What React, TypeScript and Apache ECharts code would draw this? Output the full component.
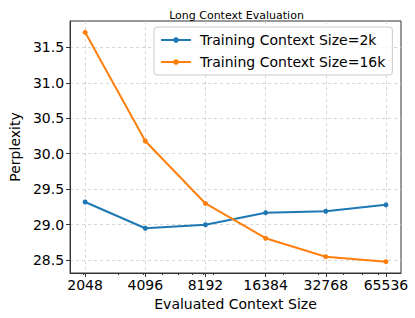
import React, { useEffect, useRef } from "react";
import * as echarts from "echarts";

const contextSizes = [2048, 4096, 8192, 16384, 32768, 65536];
const ppl2k = [29.32, 28.95, 29.0, 29.17, 29.19, 29.28];
const ppl16k = [31.71, 30.18, 29.3, 28.81, 28.55, 28.48];
const yTicks = [28.5, 29.0, 29.5, 30.0, 30.5, 31.0, 31.5];
const minorXTicks = [2000, 3000, 4000, 5000, 6000, 7000, 8000, 9000, 20000, 30000, 40000, 50000, 60000];
const seriesNames = ["Training Context Size=2k", "Training Context Size=16k"];

const FONT = "DejaVu Sans";

export default function App() {
  const ref = useRef<HTMLDivElement>(null);
  useEffect(() => {
    if (!ref.current) return;
    const chart = echarts.init(ref.current, undefined, { renderer: "svg" });
    const xs = contextSizes.map((v) => Math.log2(v));
    const xMin = Math.log2(contextSizes[0]) - 0.25;
    const xMax = Math.log2(contextSizes[contextSizes.length - 1]) + 0.25;
    const mk = (vals: number[]) => xs.map((x, i) => [x, vals[i]]);
    chart.setOption({
      animation: false,
      backgroundColor: "#ffffff",
      title: {
        text: "Long Context Evaluation",
        left: 231.5,
        textAlign: "center",
        top: 5,
        textStyle: { fontFamily: FONT, fontSize: 11, fontWeight: "normal", color: "#000" },
      },
      legend: {
        orient: "vertical",
        left: 154,
        top: 27,
        padding: [6, 7, 6, 6],
        itemWidth: 30,
        itemHeight: 7,
        itemGap: 8,
        backgroundColor: "rgba(255,255,255,0.8)",
        borderColor: "#cccccc",
        borderWidth: 1,
        borderRadius: 3,
        textStyle: { fontFamily: FONT, fontSize: 14, color: "#000", padding: [0, 0, 0, 4] },
        data: seriesNames,
      },
      grid: {
        left: 62,
        right: 14,
        top: 21,
        bottom: 45,
        show: true,
        borderColor: "#333",
        borderWidth: 1,
      },
      xAxis: [
        {
          type: "value",
          min: xMin,
          max: xMax,
          name: "Evaluated Context Size",
          nameLocation: "middle",
          nameGap: 22,
          nameTextStyle: { fontFamily: FONT, fontSize: 14, color: "#000" },
          axisLine: { show: true, lineStyle: { color: "#333", width: 1 } },
          axisTick: { show: true, length: 4, lineStyle: { color: "#333" }, customValues: xs },
          axisLabel: {
            customValues: xs,
            margin: 5,
            fontFamily: FONT,
            fontSize: 14,
            color: "#000",
            formatter: (v: number) => String(Math.round(Math.pow(2, v))),
          },
          splitLine: { show: true, lineStyle: { color: "#cccccc", type: [3, 3], width: 0.8 } },
        },
        {
          type: "value",
          min: xMin,
          max: xMax,
          position: "bottom",
          axisLine: { show: false },
          axisLabel: { show: false },
          splitLine: { show: false },
          axisTick: {
            show: true,
            length: 2,
            lineStyle: { color: "#333" },
            customValues: minorXTicks.map((v) => Math.log2(v)),
          },
        },
      ],
      yAxis: {
        type: "value",
        min: 28.32,
        max: 31.87,
        name: "Perplexity",
        nameLocation: "middle",
        nameGap: 29,
        nameTextStyle: { fontFamily: FONT, fontSize: 14, color: "#000" },
        axisLine: { show: true, lineStyle: { color: "#333", width: 1 } },
        axisTick: { show: true, length: 4, lineStyle: { color: "#333" }, customValues: yTicks },
        axisLabel: {
          customValues: yTicks,
          margin: 6,
          fontFamily: FONT,
          fontSize: 14,
          color: "#000",
          formatter: (v: number) => v.toFixed(1),
        },
        splitLine: { show: true, lineStyle: { color: "#cccccc", type: [3, 3], width: 0.8 } },
      },
      series: [
        {
          name: seriesNames[0],
          type: "line",
          data: mk(ppl2k),
          symbol: "circle",
          symbolSize: 5,
          color: "#1f77b4",
          lineStyle: { width: 2 },
        },
        {
          name: seriesNames[1],
          type: "line",
          data: mk(ppl16k),
          symbol: "circle",
          symbolSize: 5,
          color: "#ff7f0e",
          lineStyle: { width: 2 },
        },
      ],
    });
    return () => chart.dispose();
  }, []);
  return <div ref={ref} style={{ width: 415, height: 318, position: "absolute", left: 0, top: 0 }} />;
}
